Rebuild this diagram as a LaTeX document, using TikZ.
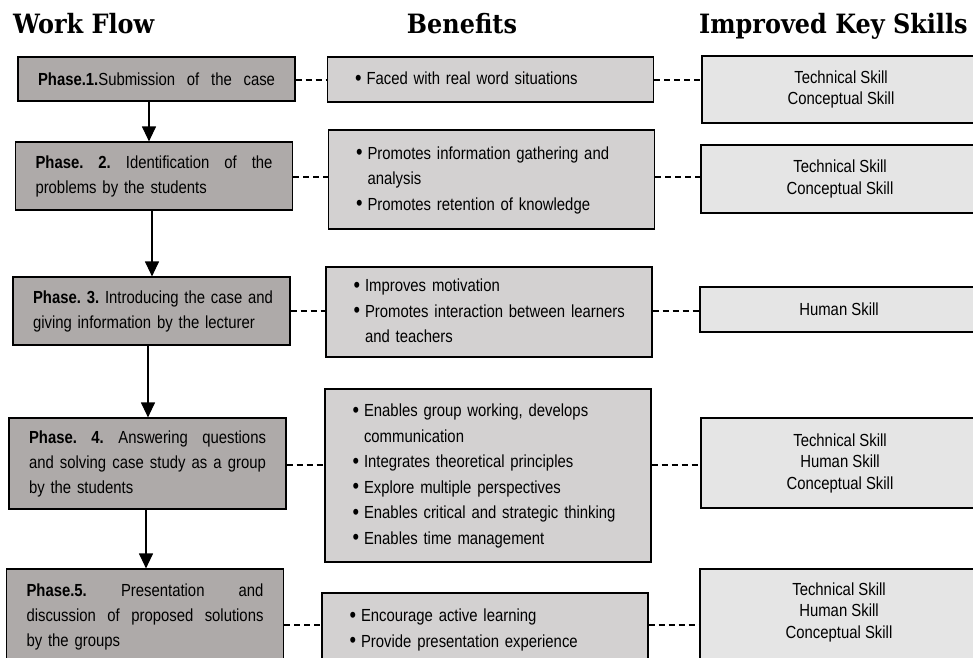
\documentclass[tikz,border=0pt]{standalone}
\usepackage{fontspec}
\setmainfont{Liberation Sans}[FakeStretch=0.85]
\newfontfamily\headfont{DejaVu Serif}[FakeStretch=0.9]
\usetikzlibrary{arrows.meta}
\definecolor{phasefill}{RGB}{174,170,169}
\definecolor{benfill}{RGB}{211,209,209}
\definecolor{skillfill}{RGB}{229,229,229}
\frenchspacing
\newcommand\bl{\raisebox{-0.5pt}{\scalebox{1.25}{\textbullet}}}
\newcommand\blist[1]{\begin{tabular}{@{}l@{\hspace{5pt}}l@{}}#1\end{tabular}}
\newcommand\jline[1]{\makebox[237pt][s]{\spaceskip=\fontdimen2\font plus 1fil\relax #1}}
\begin{document}
\begin{tikzpicture}[x=1pt,y=-1pt,
  header/.style={font=\headfont\bfseries\fontsize{26.6}{30}\selectfont, inner sep=0pt},
  phasebox/.style={draw, line width=1.2pt, fill=phasefill, text width=237pt, inner xsep=20pt, inner ysep=0pt, align=left, font=\frenchspacing\fontsize{17.5}{25}\selectfont},
  benbox/.style={draw, line width=1.2pt, fill=benfill, text width=271pt, inner xsep=27.5pt, inner ysep=0pt, align=left, font=\frenchspacing\fontsize{17.5}{25.5}\selectfont},
  skillbox/.style={draw, line width=1.2pt, fill=skillfill, minimum width=278pt, inner sep=0pt, align=center, font=\fontsize{17.5}{21.5}\selectfont},
  skilltext/.style={inner sep=0pt, align=center, font=\fontsize{17.5}{21.5}\selectfont},
  flow/.style={line width=1.2pt, -{Triangle[length=15pt,width=14pt]}},
  dashline/.style={line width=1.5pt, dash pattern=on 6pt off 4pt}]
\useasboundingbox (0,0) rectangle (973,657);
\clip (0,0) rectangle (973,657);
\fill[white] (0,0) rectangle (973,657);

% headers
\node[header, anchor=base west] (h1) at (13,33) {Work Flow};
\node[header, anchor=base] (h2) at (462,33) {Benefits};
\node[header, anchor=base west] (h3) at (699,33) {Improved Key Skills};

% phases
\node[phasebox, minimum height=44pt] (p1) at (156.5,79) {\jline{\textbf{Phase.1.}Submission of the case}};
\node[phasebox, minimum height=68pt] (p2) at (154,176) {\jline{\textbf{Phase. 2.} Identification of the}\\\mbox{problems by the students}};
\node[phasebox, minimum height=68pt] (p3) at (151.5,311) {\mbox{\textbf{Phase. 3.} Introducing the case and}\\\mbox{giving information by the lecturer}};
\node[phasebox, minimum height=91pt] (p4) at (147.5,463.5) {\jline{\textbf{Phase. 4.} Answering questions}\\\jline{and solving case study as a group}\\\mbox{by the students}};
\node[phasebox, minimum height=96pt] (p5) at (145,617) {\jline{\textbf{Phase.5.} Presentation and}\\\jline{discussion of proposed solutions}\\\mbox{by the groups}};

% benefits
\node[benbox, minimum height=45pt] (b1) at (490.5,79.5) {\blist{\bl & Faced with real word situations}};
\node[benbox, minimum height=99pt] (b2) at (491.5,179.5) {\blist{\bl & Promotes information gathering and\\ & analysis\\ \bl & Promotes retention of knowledge}};
\node[benbox, minimum height=90pt] (b3) at (489,312) {\blist{\bl & Improves motivation\\ \bl & Promotes interaction between learners\\ & and teachers}};
\node[benbox, minimum height=173pt] (b4) at (488,475.5) {\blist{\bl & Enables group working, develops\\ & communication\\ \bl & Integrates theoretical principles\\ \bl & Explore multiple perspectives\\ \bl & Enables critical and strategic thinking\\ \bl & Enables time management}};
\node[benbox, minimum height=73pt] (b5) at (485,629.5) {\blist{\bl & Encourage active learning\\ \bl & Provide presentation experience}};

% skills
\node[skillbox, minimum height=67pt] (s1) at (841,89.5) {Technical Skill\\Conceptual Skill};
\node[skillbox, minimum height=68pt] (s2) at (840,179) {Technical Skill\\Conceptual Skill};
\node[skillbox, minimum height=45pt] (s3) at (839,309.5) {Human Skill};
\node[skillbox, minimum height=90pt] (s4) at (840,463) {Technical Skill\\Human Skill\\Conceptual Skill};
\node[skillbox, minimum height=112pt] (s5) at (839,625) {};
\node[skilltext] (s5t) at (839,612) {Technical Skill\\Human Skill\\Conceptual Skill};

% flow arrows
\coordinate (a1) at (149,0);
\coordinate (a2) at (152,0);
\coordinate (a3) at (148,0);
\coordinate (a4) at (146,0);
\draw[flow] (a1 |- p1.south) -- (a1 |- p2.north);
\draw[flow] (a2 |- p2.south) -- (a2 |- p3.north);
\draw[flow] (a3 |- p3.south) -- (a3 |- p4.north);
\draw[flow] (a4 |- p4.south) -- (a4 |- p5.north);

% dashed links
\coordinate (r1) at (0,80);
\coordinate (r2) at (0,177);
\coordinate (r3) at (0,311);
\coordinate (r4) at (0,465);
\coordinate (r5) at (0,625);
\foreach \i in {1,...,5}{
  \draw[dashline] (p\i.east |- r\i) -- (b\i.west |- r\i);
  \draw[dashline] (b\i.east |- r\i) -- (s\i.west |- r\i);
}
\end{tikzpicture}
\end{document}
